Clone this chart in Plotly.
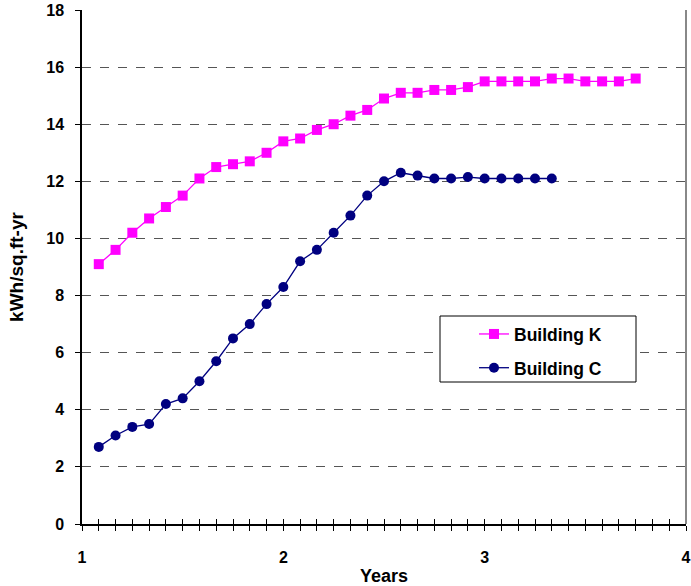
import plotly.graph_objects as go

# Data
months_k = list(range(1, 34))
months_c = list(range(1, 29))
years_k = [1 + m / 12 for m in months_k]
years_c = [1 + m / 12 for m in months_c]
building_k = [9.1, 9.6, 10.2, 10.7, 11.1, 11.5, 12.1, 12.5, 12.6, 12.7, 13.0,
              13.4, 13.5, 13.8, 14.0, 14.3, 14.5, 14.9, 15.1, 15.1, 15.2, 15.2,
              15.3, 15.5, 15.5, 15.5, 15.5, 15.6, 15.6, 15.5, 15.5, 15.5, 15.6]
building_c = [2.7, 3.1, 3.4, 3.5, 4.2, 4.4, 5.0, 5.7, 6.5, 7.0, 7.7, 8.3, 9.2,
              9.6, 10.2, 10.8, 11.5, 12.0, 12.3, 12.2, 12.1, 12.1, 12.15, 12.1,
              12.1, 12.1, 12.1, 12.1]
x_tick_vals = [1 + i / 12 for i in range(0, 37)]
x_tick_text = ["<b>%d</b>" % round(v) if abs(v - round(v)) < 1e-9 else "" for v in x_tick_vals]
y_tick_vals = list(range(0, 19, 2))
y_tick_text = ["<b>%d</b>" % v for v in y_tick_vals]

FONT = "Liberation Sans"

fig = go.Figure()
fig.add_trace(go.Scatter(
    x=years_k, y=building_k, name="<b>Building K</b>", mode="lines+markers",
    line=dict(color="#FF00FF", width=1.3),
    marker=dict(symbol="square", size=10, color="#FF00FF"),
    legendgroup="k",
))
fig.add_trace(go.Scatter(
    x=years_c, y=building_c, name="<b>Building C</b>", mode="lines+markers",
    line=dict(color="#000080", width=1.3),
    marker=dict(symbol="circle", size=10, color="#000080"),
    legendgroup="c", xaxis="x2",
))

fig.update_layout(
    width=691, height=586,
    margin=dict(l=82, r=5, t=10, b=62, autoexpand=False),
    plot_bgcolor="white", paper_bgcolor="white",
    font=dict(family=FONT, size=16, color="black"),
    showlegend=True,
    legend=dict(
        x=0.649, y=0.4045, xanchor="left", yanchor="top",
        bgcolor="rgba(0,0,0,0)", borderwidth=0,
        font=dict(family=FONT, size=17.5, color="black"),
        tracegroupgap=8,
    ),
    xaxis=dict(
        range=[1, 4], tickvals=x_tick_vals, ticktext=x_tick_text,
        ticks="outside", ticklen=5, tickwidth=1, tickcolor="black",
        showline=True, linecolor="black", linewidth=1.5,
        showgrid=False, zeroline=False, automargin=False,
        ticklabelstandoff=13,
        tickfont=dict(family=FONT, size=16, color="black"),
        title=dict(text="<b>Years</b>", font=dict(family=FONT, size=18), standoff=5),
    ),
    xaxis2=dict(
        range=[1, 4], tickvals=x_tick_vals, overlaying="x", side="bottom",
        ticks="inside", ticklen=5, tickwidth=1, tickcolor="black",
        showticklabels=False, showline=False, showgrid=False, zeroline=False,
    ),
    yaxis=dict(
        range=[0, 18], tickvals=y_tick_vals, ticktext=y_tick_text,
        ticks="outside", ticklen=5, tickwidth=1, tickcolor="black",
        showline=True, linecolor="black", linewidth=1.5,
        showgrid=True, gridcolor="#555555", gridwidth=1, griddash="dash",
        zeroline=False, automargin=False, ticklabelstandoff=8,
        tickfont=dict(family=FONT, size=16, color="black"),
        title=dict(text="<b>kWh/sq.ft-yr</b>", font=dict(family=FONT, size=19), standoff=18),
    ),
    shapes=[
        dict(type="line", xref="paper", yref="paper", x0=1, x1=1, y0=0, y1=1,
             line=dict(color="#888888", width=2)),
        dict(type="rect", xref="paper", yref="paper",
             x0=(440 - 82) / 604, x1=(636 - 82) / 604,
             y0=(524 - 382) / 514, y1=(524 - 316) / 514,
             fillcolor="white", line=dict(color="black", width=1), layer="above"),
    ],
)
fig.write_html("out.html", post_script="document.body.style.margin='0';",
               config={"displayModeBar": False})
